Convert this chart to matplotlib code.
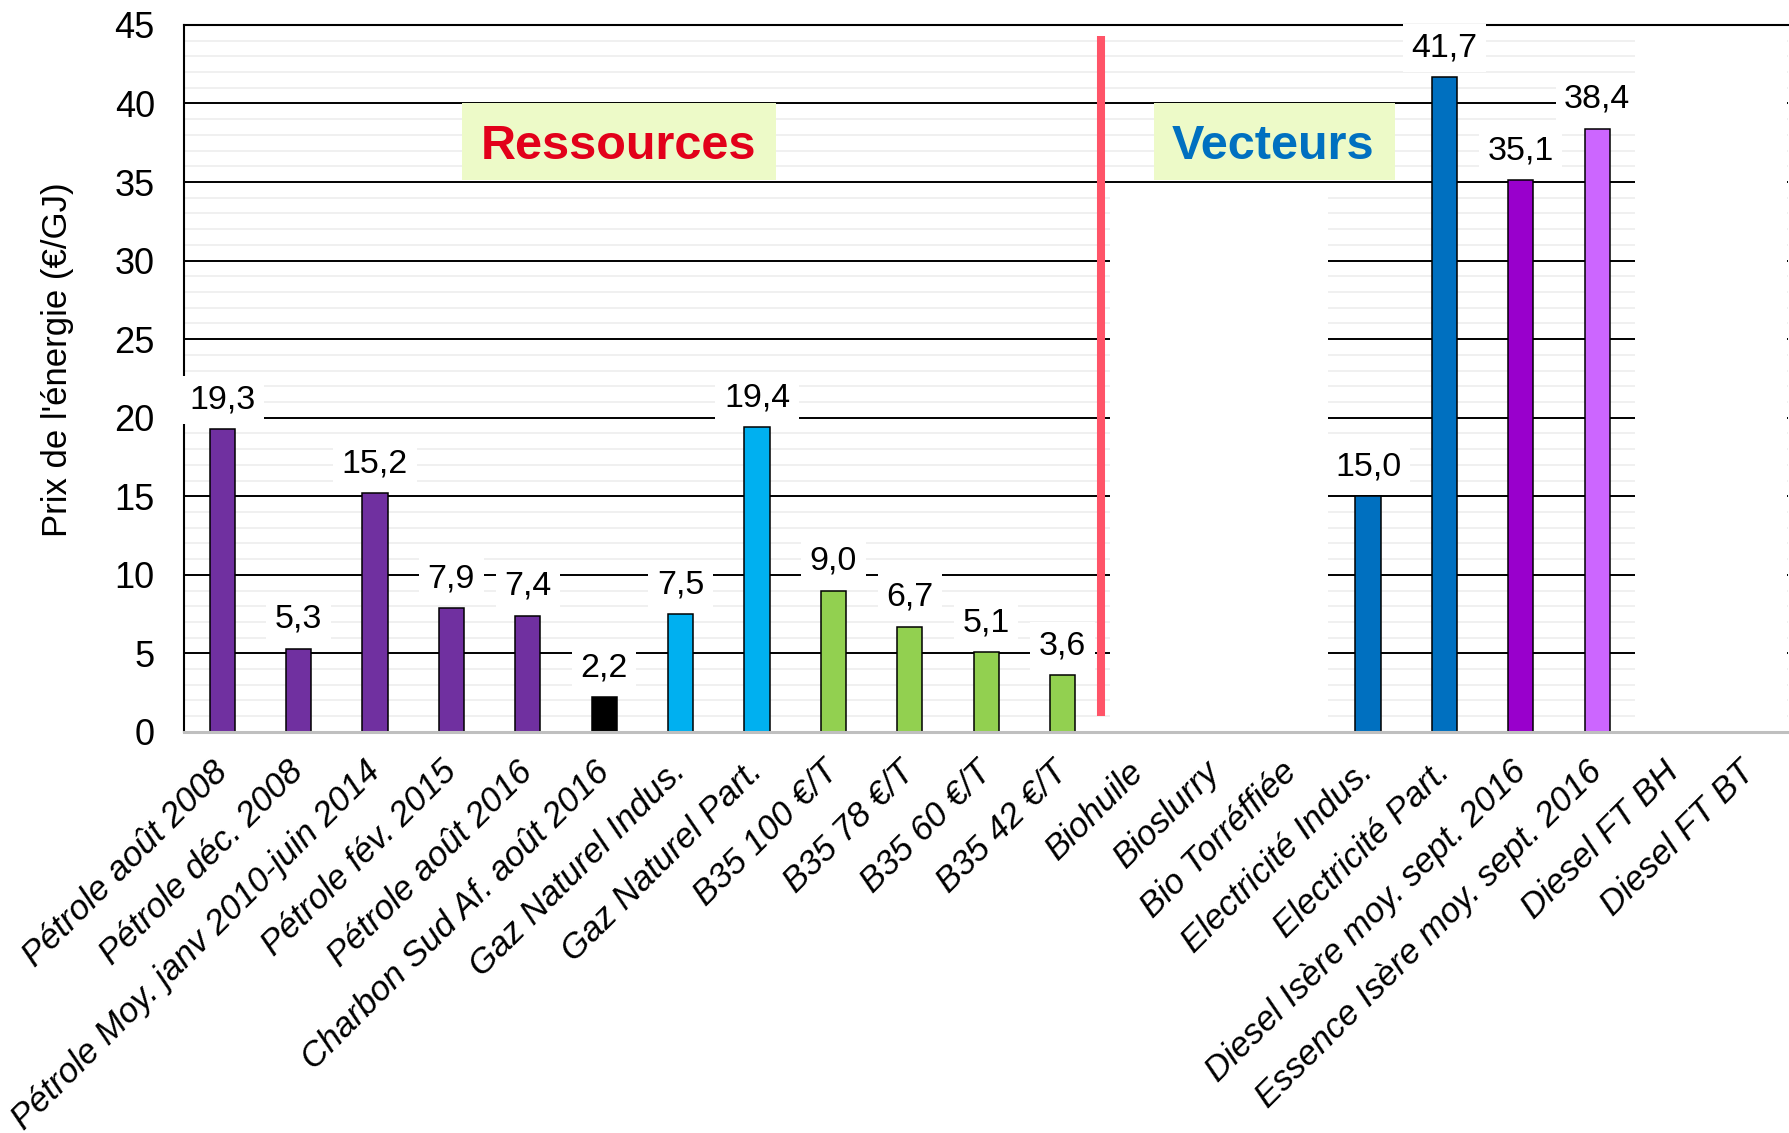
import matplotlib
matplotlib.use("Agg")
import matplotlib.pyplot as plt
from matplotlib.patches import Rectangle
from matplotlib.ticker import MultipleLocator

plt.rcParams['font.family'] = ['Liberation Sans', 'DejaVu Sans']

# ---- data -------------------------------------------------------------
categories = [
    "Pétrole août 2008",
    "Pétrole déc. 2008",
    "Pétrole Moy. janv 2010-juin 2014",
    "Pétrole fév. 2015",
    "Pétrole août 2016",
    "Charbon Sud Af. août 2016",
    "Gaz Naturel Indus.",
    "Gaz Naturel Part.",
    "B35 100 €/T",
    "B35 78 €/T",
    "B35 60 €/T",
    "B35 42 €/T",
    "Biohuile",
    "Bioslurry",
    "Bio Torréffiée",
    "Electricité Indus.",
    "Electricité Part.",
    "Diesel Isère moy. sept. 2016",
    "Essence Isère moy. sept. 2016",
    "Diesel FT BH",
    "Diesel FT BT",
]
prices = [19.3, 5.3, 15.2, 7.9, 7.4, 2.2, 7.5, 19.4, 9.0, 6.7, 5.1, 3.6,
          0.0, 0.0, 0.0, 15.0, 41.7, 35.1, 38.4, 0.0, 0.0]
bar_colors = ["#7030A0"] * 5 + ["#000000"] + ["#00B0F0"] * 2 + ["#92D050"] * 4 \
    + ["#FFFFFF"] * 3 + ["#0070C0"] * 2 + ["#9900CC", "#CC66FF"] + ["#FFFFFF"] * 2
y_ticks = [0, 5, 10, 15, 20, 25, 30, 35, 40, 45]
section_titles = ["Ressources", "Vecteurs"]

# ---- figure -----------------------------------------------------------
fig = plt.figure(figsize=(17.9, 11.33), dpi=100)
ax = fig.add_axes([0.1028, 0.354, 0.8962, 0.624])
xs = list(range(len(categories)))
ax.set_xlim(-0.5, 20.5)
ax.set_ylim(0, 45)

# horizontal grid: black every 5, faint grey every 1
ax.set_yticks(y_ticks)
ax.yaxis.set_minor_locator(MultipleLocator(1))
ax.set_axisbelow(True)
ax.grid(axis='y', which='major', color='black', lw=1.4)
ax.grid(axis='y', which='minor', color='#EFEFEF', lw=1.3)
ax.tick_params(axis='y', which='both', length=0, pad=21, labelsize=26)

# white panels hiding the grid in the empty zones
ax.add_patch(Rectangle((11.62, 0.25), 14.48 - 11.62, 34.6,
                       facecolor='white', edgecolor='none', zorder=1))
ax.add_patch(Rectangle((18.5, 0.25), 1.98, 44.5,
                       facecolor='white', edgecolor='none', zorder=1))

# section headers
ax.add_patch(Rectangle((3.14, 35.1), 4.11, 4.92,
                       facecolor='#EDFAC8', edgecolor='none', zorder=1.2))
ax.text(5.19, 37.55, section_titles[0], color='#E2001A', fontsize=35,
        fontweight='bold', ha='center', va='center_baseline', zorder=1.3)
ax.add_patch(Rectangle((12.2, 35.1), 3.15, 4.92,
                       facecolor='#EDFAC8', edgecolor='none', zorder=1.2))
ax.text(13.76, 37.55, section_titles[1], color='#0070C0', fontsize=35,
        fontweight='bold', ha='center', va='center_baseline', zorder=1.3)

# separator between resources and carriers
ax.plot([11.5, 11.5], [1.0, 44.3], color='#FF5468', lw=5.8,
        solid_capstyle='butt', zorder=2.2)

# bars
edge_colors = ['black' if v > 0 else '#A8A8A8' for v in prices]
ax.bar(xs, prices, width=0.33, color=bar_colors, edgecolor=edge_colors,
       linewidth=1.1, zorder=2)

# value labels
for i, v in enumerate(prices):
    if v > 0:
        ax.annotate(f"{v:.1f}".replace('.', ','), (i, v), xytext=(0, 21),
                    textcoords='offset points', ha='center', va='center',
                    fontsize=24.5, zorder=3, annotation_clip=False,
                    bbox=dict(boxstyle='square,pad=0.25', fc='white', ec='none'))

# axes frame
ax.spines['right'].set_visible(False)
ax.spines['top'].set_color('black')
ax.spines['top'].set_linewidth(1.5)
ax.spines['left'].set_color('black')
ax.spines['left'].set_linewidth(1.5)
ax.spines['bottom'].set_color('#BFBFBF')
ax.spines['bottom'].set_linewidth(2.2)

# category labels
ax.set_xticks(xs)
ax.set_xticklabels(categories, rotation=45, ha='right', va='center',
                   rotation_mode='anchor', fontsize=25, fontstyle='italic')
ax.tick_params(axis='x', length=0, pad=25)

fig.text(0.032, 0.6826, "Prix de l'énergie (€/GJ)", rotation=90,
         ha='center', va='center', fontsize=25)

fig.savefig("out.png", dpi=100)
